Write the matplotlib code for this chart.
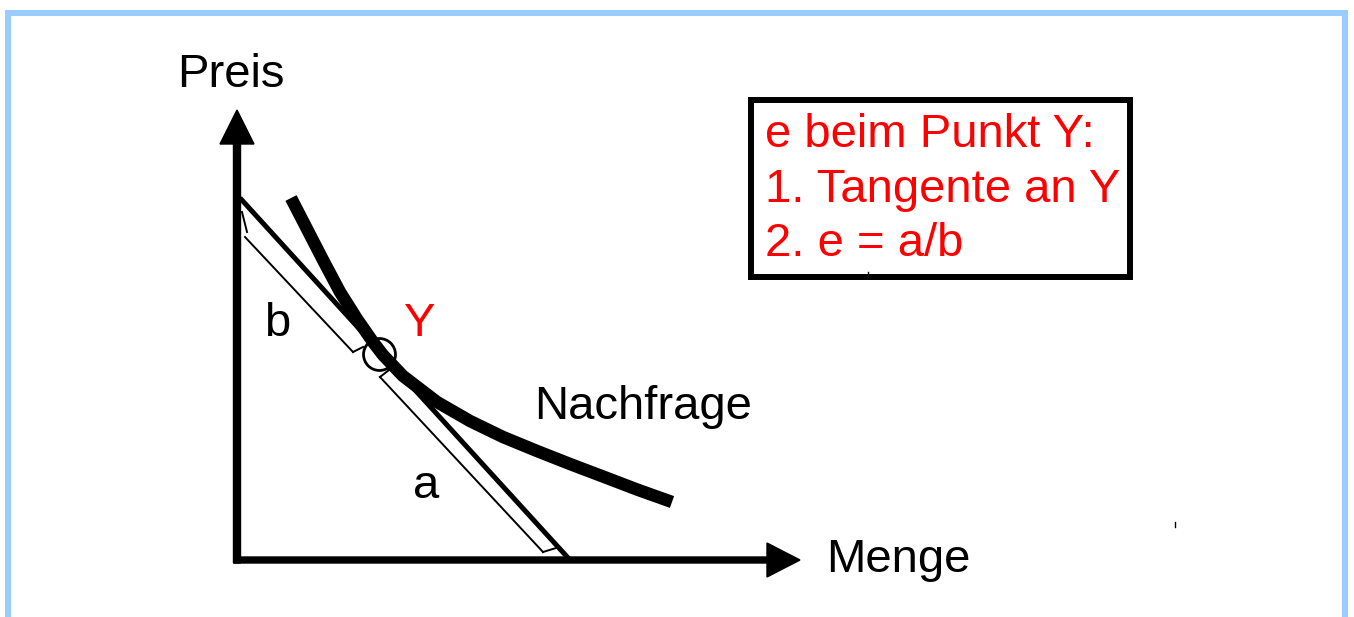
import matplotlib
matplotlib.use("Agg")
import matplotlib.pyplot as plt
from matplotlib.patches import Rectangle

plt.rcParams['font.family'] = ['Liberation Sans', 'DejaVu Sans']

# demand curve (Menge, Preis) in drawing units
demand_q = [54, 70, 86, 103, 120, 136, 146, 166, 200, 233, 266, 300, 333, 366, 400, 435]
demand_p = [362, 331, 300, 268, 241, 218, 205, 184, 158, 139, 123, 109, 96, 83.5, 70.5, 58]

# tangent through Y
tangent_q = [3, 333]
tangent_p = [362, 0]

# point Y
point_y = (142, 206)

# dimension lines for b and a
b_q = [8, 116]
b_p = [323, 208]
b_ticks = [([5, 10], [348, 328]), ([116, 126], [208, 213])]
a_q = [143, 306]
a_p = [183, 8]
a_ticks = [([143, 152], [183, 190]), ([306, 319], [8, 12])]

box_lines = ["e beim Punkt Y:", "1. Tangente an Y", "2. e = a/b"]

fig = plt.figure(figsize=(13.54, 6.17), dpi=100)
ax = fig.add_axes([0, 0, 1, 1])
ax.set_xlim(-237, 1117)
ax.set_ylim(-57, 560)
ax.axis('off')

# light blue frame (open at the bottom)
ax.plot([-229, -229, 1108, 1108], [-80, 547, 547, -80], color='#99CCFF', lw=4.3,
        solid_joinstyle='miter', clip_on=False)

# axes with arrows
ax.arrow(0, -3, 0, 453, width=7, head_width=34, head_length=34,
         length_includes_head=True, fc='k', ec='k')
ax.arrow(-3, 0, 566, 0, width=6, head_width=34, head_length=33,
         length_includes_head=True, fc='k', ec='k')

# demand curve and tangent
ax.plot(demand_q, demand_p, color='k', lw=9, solid_capstyle='butt', solid_joinstyle='round')
ax.plot(tangent_q, tangent_p, color='k', lw=3.6, solid_capstyle='butt')

# circle at Y
ax.plot(*point_y, marker='o', ms=23, mfc='none', mec='k', mew=2)

# dimension lines
ax.plot(b_q, b_p, color='k', lw=1.4)
for tq, tp in b_ticks:
    ax.plot(tq, tp, color='k', lw=1.4)
ax.plot(a_q, a_p, color='k', lw=1.4)
for tq, tp in a_ticks:
    ax.plot(tq, tp, color='k', lw=1.4)

# labels
ax.text(-6, 485, "Preis", fontsize=34, ha='center', va='center')
ax.text(661, 0, "Menge", fontsize=34, ha='center', va='center')
ax.text(406, 153, "Nachfrage", fontsize=34, ha='center', va='center')
ax.text(40, 236, "b", fontsize=34, ha='center', va='center')
ax.text(189, 74, "a", fontsize=34, ha='center', va='center')
ax.text(183, 236, "Y", fontsize=34, ha='center', va='center', color='red')

# explanation box
ax.add_patch(Rectangle((514, 283), 379, 177, fill=False, ec='k', lw=4.3))
for i, line in enumerate(box_lines):
    ax.text(528, 425 - i * 54.5, line, fontsize=34, ha='left', va='center', color='red')

# small stray marks
ax.plot([938, 938], [33, 38], color='k', lw=1)
ax.plot([631, 631], [286, 288], color='k', lw=1)

fig.savefig("out.png", dpi=100)
